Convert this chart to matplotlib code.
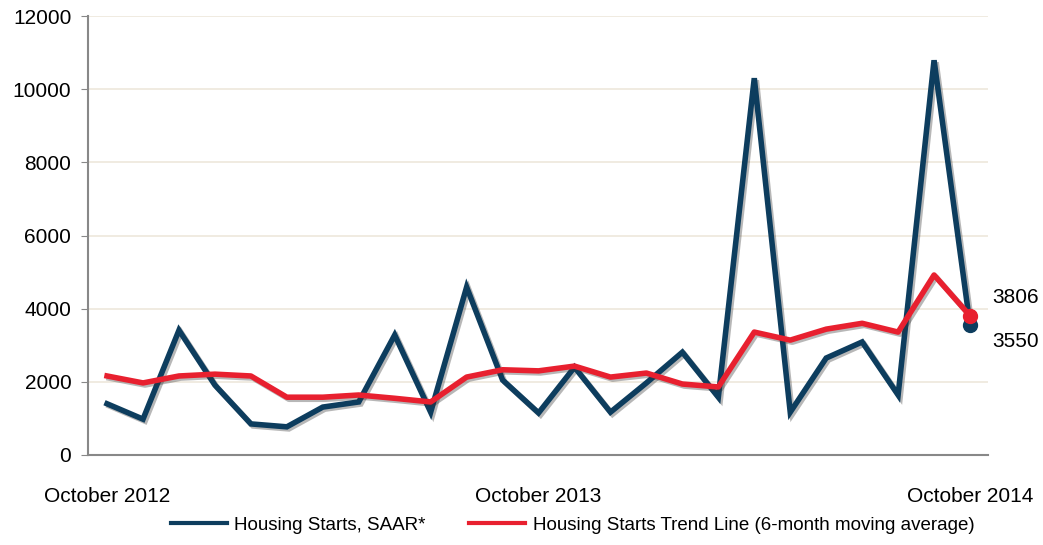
import matplotlib
matplotlib.use("Agg")
import matplotlib.pyplot as plt
import matplotlib.patheffects as pe
from matplotlib.lines import Line2D

# Monthly data, October 2012 .. October 2014
months = list(range(25))
tick_pos = [0, 12, 24]
tick_labels = ["October 2012", "October 2013", "October 2014"]

starts = [1400, 980, 3410, 1910, 850, 770, 1310, 1450, 3280, 1170, 4590, 2050,
          1150, 2400, 1170, 1970, 2810, 1580, 10300, 1170, 2650, 3090, 1640, 10790, 3550]
trend = [2160, 1970, 2160, 2210, 2160, 1580, 1580, 1640, 1550, 1450, 2130, 2330,
         2300, 2430, 2130, 2240, 1940, 1860, 3360, 3140, 3440, 3600, 3360, 4920, 3806]

blue = "#0d3d5e"
red = "#e8202f"

plt.rcParams['font.family'] = ['Liberation Sans', 'DejaVu Sans']

fig = plt.figure(figsize=(10.43, 5.45), dpi=100)
ax = fig.add_axes([88 / 1043, 1 - 455 / 545, 900 / 1043, 439 / 545])

shadow = [pe.SimpleLineShadow(offset=(1.5, -1.5), alpha=0.35, shadow_color='#333333'), pe.Normal()]

ax.plot(months, starts, color=blue, linewidth=4, solid_joinstyle='miter',
        path_effects=shadow, zorder=3)
ax.plot(months, trend, color=red, linewidth=4, solid_joinstyle='round',
        path_effects=shadow, zorder=4)
ax.plot(months[-1], starts[-1], 'o', color=blue, markersize=10, zorder=3)
ax.plot(months[-1], trend[-1], 'o', color=red, markersize=10, zorder=4)

ax.annotate(str(trend[-1]), (months[-1], trend[-1]), xytext=(16, 13), textcoords='offset points',
            fontsize=15, va='center', ha='left')
ax.annotate(str(starts[-1]), (months[-1], starts[-1]), xytext=(16, -12), textcoords='offset points',
            fontsize=15, va='center', ha='left')

ax.set_xlim(-0.53, 24.5)
ax.set_ylim(0, 12000)
ax.set_yticks(range(0, 12001, 2000))
ax.set_xticks(tick_pos)
ax.set_xticklabels(tick_labels)
ax.tick_params(axis='x', length=0, pad=23, labelsize=15)
ax.tick_params(axis='y', length=5, color='#888888', labelsize=15, pad=7)

ax.grid(axis='y', color='#ede8dc', linewidth=1.2)
ax.set_axisbelow(True)
for s in ['top', 'right']:
    ax.spines[s].set_visible(False)
for s in ['left', 'bottom']:
    ax.spines[s].set_color('#888888')
    ax.spines[s].set_linewidth(1.5)

handles = [Line2D([], [], color=blue, linewidth=3),
           Line2D([], [], color=red, linewidth=3)]
labels = ["Housing Starts, SAAR*", "Housing Starts Trend Line (6-month moving average)"]
fig.legend(handles, labels, loc='lower center', bbox_to_anchor=(0.549, -0.01), ncol=2,
           frameon=False, fontsize=13.5, handlelength=3.0, handletextpad=0.4, columnspacing=2.3)

fig.savefig("out.png", dpi=100)
